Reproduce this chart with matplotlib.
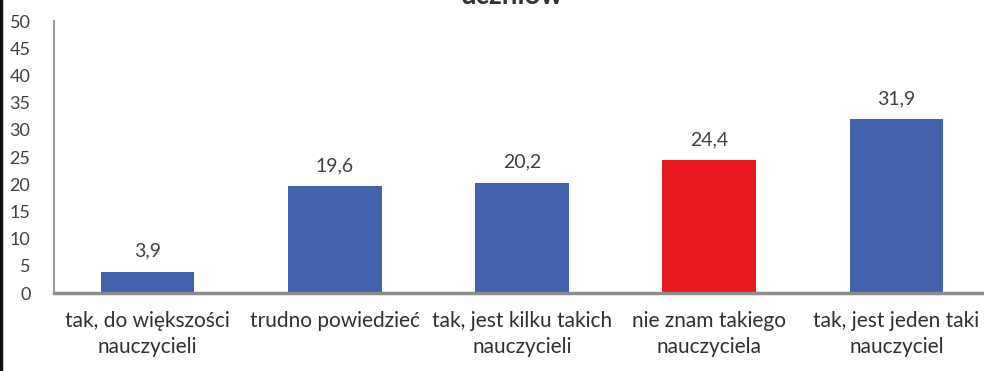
import matplotlib.pyplot as plt
from matplotlib.lines import Line2D

# survey answers and their shares (%)
categories = [
    "tak, do większości\nnauczycieli",
    "trudno powiedzieć",
    "tak, jest kilku takich\nnauczycieli",
    "nie znam takiego\nnauczyciela",
    "tak, jest jeden taki\nnauczyciel",
]
values = [3.9, 19.6, 20.2, 24.4, 31.9]
labels = ["3,9", "19,6", "20,2", "24,4", "31,9"]
yticks = list(range(0, 55, 5))

blue = "#4363AE"
red = "#E8181F"
colors = [blue, blue, blue, red, blue]

plt.rcParams['font.family'] = ['Lato', 'DejaVu Sans']

fig = plt.figure(figsize=(9.84, 3.71), dpi=100)
ax = fig.add_axes([54 / 984, 78 / 371, 936 / 984, 272 / 371])

x = list(range(len(values)))
ax.bar(x, values, width=0.5, color=colors)

for xi, v, lab in zip(x, values, labels):
    ax.annotate(lab, (xi, v), xytext=(0, 15), textcoords="offset points",
                ha="center", va="center", fontsize=14, color="#404040")

ax.set_xlim(-0.5, 4.5)
ax.set_ylim(0, 50)
ax.set_yticks(yticks)
ax.set_yticklabels([str(t) for t in yticks], fontsize=13, color="#404040")
ax.set_xticks(x)
ax.set_xticklabels(categories, fontsize=15, color="#303030", linespacing=1.4)
ax.tick_params(axis="both", length=0)
ax.tick_params(axis="y", pad=17)
ax.tick_params(axis="x", pad=13)

for side in ["top", "right"]:
    ax.spines[side].set_visible(False)
ax.spines["left"].set_color("#8c8c8c")
ax.spines["left"].set_linewidth(1.2)
ax.spines["bottom"].set_color("#8c8c8c")
ax.spines["bottom"].set_linewidth(2.5)

# title sits mostly above the top edge
fig.text(512 / 984, 1.01, "uczniów", ha="center", va="center",
         fontsize=20, fontweight="bold", color="#333333")

# dark frame line on the left edge
fig.add_artist(Line2D([0.0015, 0.0015], [0, 1], transform=fig.transFigure,
                      color="#111111", linewidth=2.5))

fig.savefig("out.png", dpi=100)
